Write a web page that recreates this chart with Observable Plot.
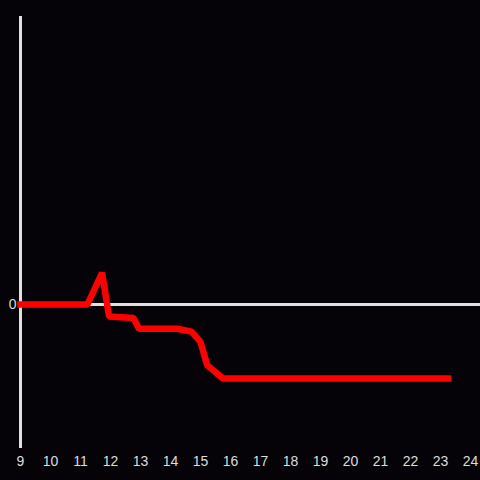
<!DOCTYPE html>
<html>
<head>
<meta charset="utf-8">
<script src="https://cdn.jsdelivr.net/npm/d3@7"></script>
<script src="https://cdn.jsdelivr.net/npm/@observablehq/plot@0.6"></script>
<style>
  html, body { margin: 0; padding: 0; background: #050307; }
  #chart svg { display: block; }
</style>
</head>
<body>
<div id="chart"></div>
<script>
const hours = [9, 11.23, 11.72, 11.95, 12.77, 12.95, 14.22, 14.7, 15, 15.22, 15.75, 23.25];
const values = [0, 0, 0.22, -0.083, -0.094, -0.168, -0.168, -0.188, -0.26, -0.42, -0.514, -0.514];
const xTicks = [9, 10, 11, 12, 13, 14, 15, 16, 17, 18, 19, 20, 21, 22, 23, 24];
const yTicks = [0];

const data = hours.map((h, i) => ({hour: h, value: values[i]}));

const plot = Plot.plot({
  width: 480,
  height: 480,
  marginLeft: 20,
  marginRight: 10,
  marginTop: 16,
  marginBottom: 32,
  style: {background: "#050307", color: "#dddddd", fontFamily: "'Liberation Sans', Arial, sans-serif", fontSize: "14px"},
  x: {domain: [9, 24]},
  y: {domain: [-1, 2]},
  marks: [
    Plot.axisX({ticks: xTicks, tickSize: 0, tickPadding: 8, tickFormat: d => String(d), fill: "#dddddd", label: null, fontSize: 14}),
    Plot.axisY({ticks: yTicks, tickSize: 0, tickPadding: 4, tickFormat: d => String(d), fill: "#dddddd", label: null, fontSize: 14}),
    Plot.ruleX([9], {stroke: "#e0e0e0", strokeWidth: 3}),
    Plot.ruleY([0], {x1: 9, x2: 24.34, stroke: "#e0e0e0", strokeWidth: 3}),
    Plot.line(data, {x: "hour", y: "value", stroke: "#ff0000", strokeWidth: 6.5, strokeLinecap: "square", strokeLinejoin: "miter"})
  ]
});
document.getElementById("chart").appendChild(plot);
</script>
</body>
</html>
